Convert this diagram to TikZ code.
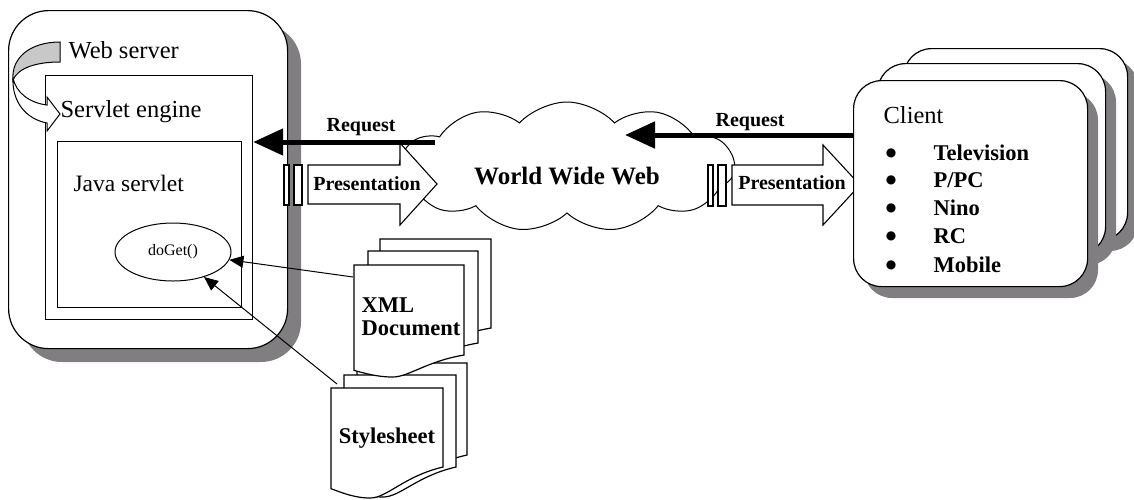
\documentclass[tikz,border=0pt]{standalone}
\usepackage{fontspec}
\setmainfont{Liberation Serif}
\newfontfamily\symfont{DejaVu Sans}
\usetikzlibrary{arrows.meta,shapes.geometric,shapes.symbols}
\definecolor{shadowgray}{RGB}{128,126,128}
\definecolor{lightgray}{RGB}{200,200,200}
\newcommand{\docpg}[5]{% x y w hR drop
  \draw[fill=white] (#1,#2) -- ({#1+#3},#2) -- ({#1+#3},{#2+#4})
    .. controls ({#1+0.65*#3},{#2+#4+0.3*#5}) and ({#1+0.5*#3},{#2+#4+#5}) .. ({#1+0.35*#3},{#2+#4+#5})
    .. controls ({#1+0.2*#3},{#2+#4+#5}) and ({#1+0.08*#3},{#2+#4+0.8*#5}) .. (#1,{#2+#4+0.7*#5}) -- cycle;}
\begin{document}
\begin{tikzpicture}[x=1pt,y=-1pt,line width=1.2pt,
  box/.style={draw=black,fill=white,line width=1.2pt},
  reqline/.style={line width=5pt,-{Triangle[length=30pt,width=26pt]}},
  docarrow/.style={line width=1pt,-{Triangle[length=14pt,width=12pt]}},
  rlbl/.style={font=\fontsize{24.5}{27}\selectfont,inner sep=0pt,anchor=west},
  blbl/.style={font=\fontsize{20}{22}\selectfont\bfseries,inner sep=0pt},
  dlbl/.style={font=\fontsize{22.5}{26}\selectfont\bfseries,inner sep=0pt,align=left},
  ilbl/.style={font=\fontsize{22.5}{24}\selectfont\bfseries,inner sep=0pt,anchor=west},
  bullet/.style={font=\symfont\fontsize{12}{12}\selectfont,inner sep=0pt},
  blockarrow/.style={draw=black,fill=white,line width=1.1pt}]
\useasboundingbox (0,0) rectangle (1134,499);
\clip (0,0) rectangle (1134,499);
% ---------- web server ----------
\fill[shadowgray,rounded corners=40pt] (22,24) rectangle (301,362);
\node[box,rounded corners=40pt,minimum width=279pt,minimum height=338pt,anchor=north west,inner sep=0pt] (server) at (8,10) {};
\node[rlbl] (serverlbl) at (68,50) {Web server};
% curved arrow
\filldraw[fill=lightgray,line width=1pt] (60,42) -- (60,62) .. controls (36,62) and (18,68) .. (13,80) .. controls (11,58) and (30,42) .. cycle;
\node[box,minimum width=207pt,minimum height=244pt,anchor=north west,inner sep=0pt] (engine) at (45,75) {};
\filldraw[fill=white,line width=1pt] (13,78) .. controls (16,93) and (30,103) .. (47,105) -- (47,97) -- (60,114) -- (47,131) -- (47,123) .. controls (26,119) and (12,102) .. (13,78);
\node[rlbl] (enginelbl) at (60,112) {Servlet engine};
\node[box,minimum width=184pt,minimum height=166pt,anchor=north west,inner sep=0pt] (java) at (57,141) {};
\node[rlbl,font=\fontsize{23.5}{26}\selectfont] (javalbl) at (73,183) {Java servlet};
\node[draw,ellipse,line width=1pt,minimum width=116pt,minimum height=58pt,inner sep=0pt,font=\fontsize{16}{18}\selectfont] (doget) at (173,252) {doGet()};
% ---------- cloud ----------
\node[cloud,draw,line width=1pt,cloud puffs=11,cloud puff arc=95,aspect=2.7,minimum width=335pt,minimum height=130pt,inner sep=0pt] (www) at (567,167) {};
\node[font=\fontsize{25}{28}\selectfont\bfseries,inner sep=0pt] (wwwlbl) at (567,176) {World Wide Web};
% ---------- presentation arrows ----------
\draw[blockarrow] (284,165) rectangle (289,205);
\draw[blockarrow] (294,165) rectangle (302,205);
\draw[blockarrow] (308,165) -- (400,165) -- (400,143) -- (437,184) -- (400,225) -- (400,204) -- (308,204) -- cycle;
\node[blbl] (presL) at (367,184) {Presentation};
\draw[blockarrow] (708,165) rectangle (713,206);
\draw[blockarrow] (718,165) rectangle (726,206);
\draw[blockarrow] (732,165) -- (823,165) -- (823,145) -- (860,185) -- (823,225) -- (823,205) -- (732,205) -- cycle;
\node[blbl] (presR) at (792,183) {Presentation};
% ---------- client boxes ----------
\fill[shadowgray,rounded corners=28pt] (914,59) rectangle (1138,251);
\node[box,rounded corners=28pt,minimum width=224pt,minimum height=192pt,anchor=north west,inner sep=0pt] (clientback) at (903,48) {};
\fill[shadowgray,rounded corners=28pt] (888,74) rectangle (1116,265);
\node[box,rounded corners=28pt,minimum width=228pt,minimum height=191pt,anchor=north west,inner sep=0pt] (clientmid) at (877,63) {};
\fill[shadowgray,rounded corners=28pt] (864,92) rectangle (1098,298);
\node[box,rounded corners=28pt,minimum width=234pt,minimum height=206pt,anchor=north west,inner sep=0pt] (client) at (853,80) {};
\node[rlbl] (clientlbl) at (883,115) {Client};
\foreach \t/\yy [count=\i] in {Television/153,{P/PC}/180,Nino/208,RC/236,Mobile/265}{
  \node[bullet] (bul\i) at (891,\yy) {●};
  \node[ilbl] (item\i) at (933,\yy) {\t};
}
% ---------- request arrows ----------
\coordinate (reqLstart) at (435,142);
\draw[reqline] (reqLstart) -- (reqLstart -| engine.east);
\node[blbl] (reqLlbl) at (361,127) {Request};
\coordinate (reqRend) at (625,135);
\draw[reqline] (client.west |- reqRend) -- (reqRend);
\node[blbl] (reqRlbl) at (750,122) {Request};
% ---------- documents ----------
\docpg{357}{363}{110}{92}{28}
\docpg{344}{375}{112}{92}{30}
\docpg{331}{388}{112}{79}{31}
\node[dlbl] (stylelbl) at (387,438) {Stylesheet};
\docpg{380}{239}{111}{89}{22}
\docpg{368}{251}{110}{92}{22}
\docpg{354}{265}{110}{90}{22}
\node[dlbl,anchor=west] (xmllbl) at (361,317) {XML\\[-3pt]Document};
\coordinate (xmlanchor) at (353,277);
\coordinate (styleanchor) at (337,384);
\draw[docarrow] (xmlanchor) -- (doget);
\draw[docarrow] (styleanchor) -- (doget);
\end{tikzpicture}
\end{document}
